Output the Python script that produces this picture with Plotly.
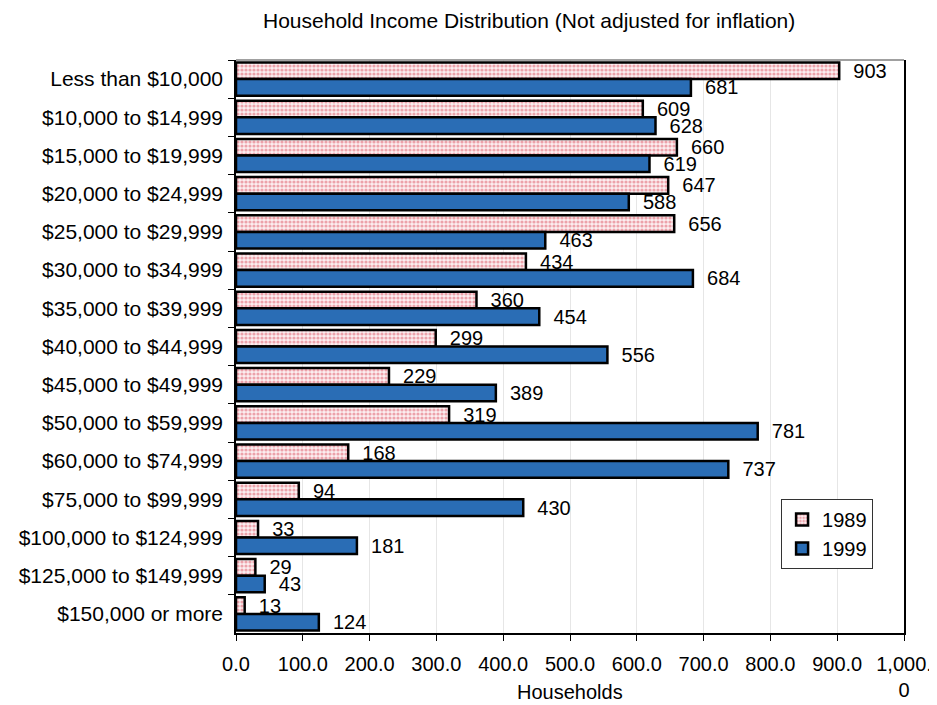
import plotly.graph_objects as go

categories = [
    "Less than $10,000", "$10,000 to $14,999", "$15,000 to $19,999",
    "$20,000 to $24,999", "$25,000 to $29,999", "$30,000 to $34,999",
    "$35,000 to $39,999", "$40,000 to $44,999", "$45,000 to $49,999",
    "$50,000 to $59,999", "$60,000 to $74,999", "$75,000 to $99,999",
    "$100,000 to $124,999", "$125,000 to $149,999", "$150,000 or more",
]
values_1989 = [903, 609, 660, 647, 656, 434, 360, 299, 229, 319, 168, 94, 33, 29, 13]
values_1999 = [681, 628, 619, 588, 463, 684, 454, 556, 389, 781, 737, 430, 181, 43, 124]
tick_vals = [0, 100, 200, 300, 400, 500, 600, 700, 800, 900, 1000]
tick_text = ["0.0", "100.0", "200.0", "300.0", "400.0", "500.0", "600.0",
             "700.0", "800.0", "900.0", "1,000.<br>0"]

FONT = "Liberation Sans, Arial, sans-serif"

fig = go.Figure()
fig.add_trace(go.Bar(
    name="1989", y=categories, x=values_1989, orientation="h",
    marker=dict(color="white", line=dict(color="black", width=2.5),
                pattern=dict(shape=".", fgcolor="#de5564", bgcolor="#fbeef0",
                             size=4, solidity=0.5)),
    text=["  " + str(v) for v in values_1989], textposition="outside",
    constraintext="none",
    textfont=dict(size=20, color="black", family=FONT), cliponaxis=False,
))
fig.add_trace(go.Bar(
    name="1999", y=categories, x=values_1999, orientation="h",
    marker=dict(color="#2a6db5", line=dict(color="black", width=2.5)),
    text=["  " + str(v) for v in values_1999], textposition="outside",
    constraintext="none",
    textfont=dict(size=20, color="black", family=FONT), cliponaxis=False,
))

fig.update_layout(
    width=929, height=697,
    margin=dict(l=228, r=33, t=52, b=72, autoexpand=False),
    paper_bgcolor="white", plot_bgcolor="white",
    font=dict(family=FONT, size=20, color="black"),
    barmode="group", bargap=0.13, bargroupgap=0.0,
    showlegend=True,
    legend=dict(x=0.816, y=0.234, xanchor="left", yanchor="top",
                bordercolor="#333333", borderwidth=1, bgcolor="white",
                font=dict(size=20, family=FONT), tracegroupgap=4,
                itemwidth=30),
)
fig.update_xaxes(
    range=[0, 1000], tickvals=tick_vals, ticktext=tick_text,
    showgrid=True, gridcolor="#e6e6e6", gridwidth=1,
    showline=True, linecolor="black", linewidth=1.5,
    ticks="outside", ticklen=6, tickcolor="black",
    tickfont=dict(size=20, family=FONT), zeroline=False,
    ticklabelstandoff=6,
)
fig.update_yaxes(
    type="category", autorange="reversed",
    showline=True, linecolor="black", linewidth=1.5, mirror=True,
    ticks="outside", ticklen=6, tickcolor="black", tickson="boundaries",
    tickfont=dict(size=21, family=FONT), showgrid=False,
    ticklabelstandoff=7,
)
fig.add_shape(type="line", xref="paper", yref="paper", x0=0, x1=1, y0=1, y1=1,
              line=dict(color="#808080", width=1.5))
fig.add_annotation(text="Household Income Distribution (Not adjusted for inflation)",
                   xref="paper", yref="paper", x=0.4386, y=1.0698,
                   xanchor="center", yanchor="middle", showarrow=False,
                   font=dict(size=21, family=FONT, color="black"))
fig.add_annotation(text="Households", xref="paper", yref="paper",
                   x=0.5, y=-0.103, xanchor="center", yanchor="middle",
                   showarrow=False, font=dict(size=20, family=FONT, color="black"))

fig.write_html("out.html")
